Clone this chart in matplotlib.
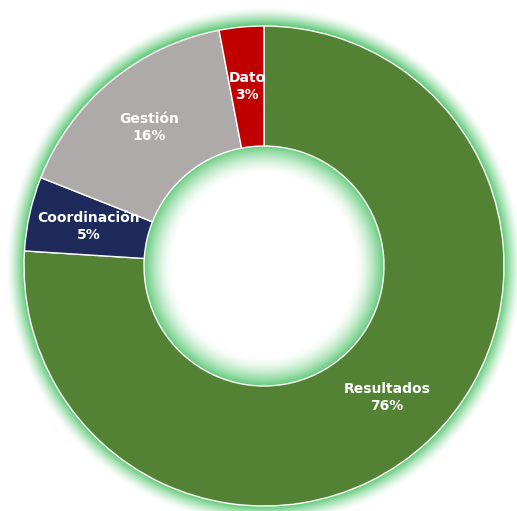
import matplotlib.pyplot as plt
import numpy as np

# Data
categories = ['Resultados', 'Coordinación', 'Gestión', 'Dato']
values = [76, 5, 16, 3]
colors = ['#548235', '#1F2A5C', '#AEAAAA', '#C00000']

glow_rgb = (0x3D / 255, 0xBE / 255, 0x5A / 255)

fig = plt.figure(figsize=(5.17, 5.11), dpi=100)
ax = fig.add_axes([0, 0, 1, 1])

wedges, _ = ax.pie(values, colors=colors, startangle=90, counterclock=False,
                   radius=1.0,
                   wedgeprops=dict(width=0.5, edgecolor='white', linewidth=1.0))
for w in wedges:
    w.set_zorder(2)

# soft green glow outside the ring and inside the hole, as one radial image
g = np.linspace(-1.15, 1.15, 800)
xx, yy = np.meshgrid(g, g)
rr = np.hypot(xx, yy)
alpha = np.zeros_like(rr)
outer = (rr >= 0.98) & (rr < 1.075)
alpha[outer] = 0.85 * np.clip(1 - (rr[outer] - 1.0) / 0.075, 0, 1) ** 1.4
inner = (rr <= 0.52) & (rr > 0.38)
alpha[inner] = 0.8 * np.clip(1 - (0.5 - rr[inner]) / 0.12, 0, 1) ** 1.6
rgba = np.zeros(rr.shape + (4,))
rgba[..., 0], rgba[..., 1], rgba[..., 2] = glow_rgb
rgba[..., 3] = alpha
ax.imshow(rgba, extent=(-1.15, 1.15, -1.15, 1.15), origin='lower',
          interpolation='bilinear', zorder=1)

# labels
total = sum(values)
for w, name, v in zip(wedges, categories, values):
    mid = np.deg2rad((w.theta1 + w.theta2) / 2)
    x = 0.75 * np.cos(mid)
    y = 0.75 * np.sin(mid)
    ax.text(x, y, f'{name}\n{round(100 * v / total)}%', ha='center', va='center',
            color='white', fontsize=10, fontweight='bold', family='DejaVu Sans',
            linespacing=1.3, zorder=5)

ax.set_aspect('auto')
ax.set_xlim(-264 / 240, (517 - 264) / 240)
ax.set_ylim(-(511 - 266) / 240, 266 / 240)
ax.axis('off')

fig.savefig('out.png', dpi=100, facecolor='white')
